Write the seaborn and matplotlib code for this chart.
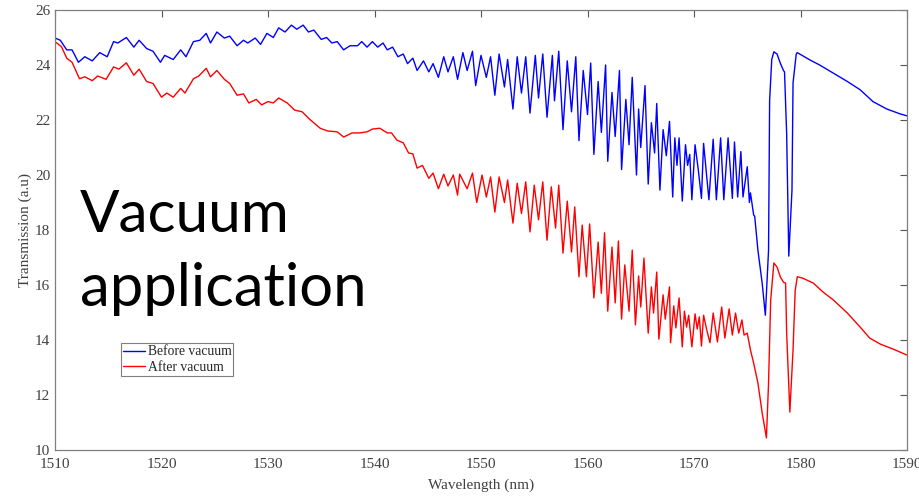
import matplotlib
matplotlib.use("Agg")
import matplotlib.pyplot as plt
import seaborn as sns
import pandas as pd

# Before vacuum (blue) (peaks / troughs)
wl_before = [1510.0, 1510.5, 1511.1, 1511.6, 1512.2, 1512.8, 1513.5, 1514.2, 1514.9, 1515.5,
             1515.9, 1516.7, 1517.4, 1517.9, 1518.6, 1519.2, 1519.9, 1520.3, 1521.1, 1521.8,
             1522.3, 1523.0, 1523.6, 1524.2, 1524.6, 1525.2, 1525.9, 1526.4, 1527.1, 1527.7,
             1528.1, 1528.8, 1529.3, 1529.9, 1530.5, 1531.0, 1531.6, 1532.2, 1532.7, 1533.3,
             1533.8, 1534.3, 1535.0, 1535.5, 1536.0, 1536.5, 1537.1, 1537.7, 1538.4, 1538.8,
             1539.3, 1539.8, 1540.3, 1540.8, 1541.2, 1541.7, 1542.2, 1542.7, 1543.1, 1543.6,
             1544.0, 1544.6, 1545.1, 1545.5, 1546.0, 1546.5, 1546.9, 1547.4, 1547.8, 1548.3,
             1548.7, 1549.2, 1549.5, 1550.0, 1550.5, 1550.9, 1551.3, 1551.7, 1552.2, 1552.5,
             1553.0, 1553.4, 1553.8, 1554.2, 1554.6, 1555.1, 1555.4, 1555.8, 1556.2, 1556.7,
             1556.9, 1557.3, 1557.7, 1558.1, 1558.5, 1558.9, 1559.2, 1559.6, 1560.0, 1560.3,
             1560.6, 1561.0, 1561.3, 1561.7, 1561.9, 1562.3, 1562.6, 1563.0, 1563.2, 1563.6,
             1563.9, 1564.2, 1564.6, 1564.8, 1565.0, 1565.4, 1565.7, 1566.0, 1566.3, 1566.5,
             1566.8, 1567.1, 1567.4, 1567.7, 1568.0, 1568.2, 1568.4, 1568.6, 1568.9, 1569.2,
             1569.4, 1569.6, 1569.8, 1570.1, 1570.4, 1570.7, 1570.9, 1571.4, 1571.8, 1572.1,
             1572.5, 1572.8, 1573.2, 1573.6, 1573.8, 1574.1, 1574.4, 1574.6, 1575.0, 1575.2,
             1575.3, 1575.6, 1575.7, 1576.0, 1576.4, 1576.7, 1577.0, 1577.1, 1577.3, 1577.5,
             1577.8, 1578.1, 1578.4, 1578.5, 1578.7, 1578.9, 1579.2, 1579.3, 1579.6, 1579.7,
             1580.9, 1581.8, 1583.1, 1584.4, 1585.6, 1586.8, 1588.1, 1589.3, 1590.0]
tr_before = [24.98, 24.9, 24.55, 24.55, 24.1, 24.3, 24.15, 24.45, 24.3, 24.85,
             24.8, 25.0, 24.65, 24.9, 24.6, 24.5, 24.1, 24.35, 24.2, 24.55,
             24.3, 24.85, 24.9, 25.15, 24.8, 25.2, 24.98, 25.05, 24.7, 24.9,
             24.8, 24.98, 24.75, 25.15, 25.0, 25.35, 25.2, 25.45, 25.3, 25.45,
             25.2, 25.27, 24.93, 25.0, 24.8, 24.85, 24.55, 24.7, 24.7, 24.85,
             24.65, 24.85, 24.65, 24.8, 24.55, 24.65, 24.3, 24.4, 24.05, 24.25,
             23.8, 24.15, 23.75, 24.05, 23.55, 24.3, 23.75, 24.3, 23.48, 24.45,
             23.8, 24.5, 23.25, 24.35, 23.55, 24.3, 22.9, 24.4, 23.2, 24.2,
             22.4, 24.3, 22.98, 24.3, 22.25, 24.35, 22.8, 24.4, 22.1, 24.35,
             22.7, 24.5, 21.65, 24.15, 22.3, 24.3, 21.25, 23.8, 22.2, 24.07,
             20.75, 23.4, 21.55, 24.0, 20.5, 23.0, 21.4, 23.8, 20.2, 22.75,
             21.1, 23.55, 20.0, 22.4, 21.0, 23.25, 19.67, 21.9, 20.8, 22.6,
             19.45, 21.65, 20.7, 21.95, 19.2, 21.35, 20.35, 21.35, 19.05, 21.1,
             20.35, 20.75, 19.1, 21.1, 20.2, 19.15, 21.15, 19.1, 21.3, 19.1,
             21.35, 19.1, 21.35, 19.15, 21.2, 19.2, 20.85, 19.2, 20.3, 19.0,
             19.35, 18.55, 18.5, 17.27, 16.07, 14.9, 17.27, 22.7, 24.2, 24.48,
             24.4, 24.07, 23.8, 23.75, 21.5, 17.05, 19.45, 23.35, 24.4, 24.45,
             24.18, 24.0, 23.7, 23.4, 23.1, 22.67, 22.4, 22.23, 22.15]

# After vacuum (red)
wl_after = [1510.0, 1510.6, 1511.1, 1511.6, 1512.3, 1512.8, 1513.5, 1514.0, 1514.8, 1515.5,
            1516.0, 1516.7, 1517.4, 1517.9, 1518.6, 1519.2, 1520.0, 1520.5, 1521.1, 1521.8,
            1522.2, 1523.0, 1523.5, 1524.2, 1524.6, 1525.2, 1525.9, 1526.4, 1527.1, 1527.7,
            1528.2, 1528.9, 1529.4, 1530.0, 1530.5, 1531.0, 1531.8, 1532.5, 1533.2, 1533.9,
            1534.9, 1535.6, 1536.5, 1537.1, 1537.9, 1538.6, 1539.3, 1539.8, 1540.5, 1541.2,
            1541.6, 1542.1, 1542.7, 1543.2, 1543.6, 1544.0, 1544.5, 1545.1, 1545.5, 1546.0,
            1546.5, 1546.9, 1547.4, 1547.8, 1548.0, 1548.7, 1549.2, 1549.6, 1550.1, 1550.5,
            1550.9, 1551.3, 1551.7, 1552.2, 1552.5, 1553.0, 1553.4, 1553.8, 1554.2, 1554.6,
            1555.0, 1555.4, 1555.8, 1556.2, 1556.6, 1557.0, 1557.3, 1557.7, 1558.1, 1558.5,
            1558.8, 1559.2, 1559.5, 1559.9, 1560.2, 1560.6, 1561.0, 1561.3, 1561.6, 1561.9,
            1562.3, 1562.6, 1562.9, 1563.2, 1563.5, 1563.9, 1564.2, 1564.5, 1564.8, 1565.0,
            1565.3, 1565.7, 1566.0, 1566.2, 1566.5, 1566.7, 1567.1, 1567.3, 1567.7, 1567.8,
            1568.1, 1568.3, 1568.6, 1568.9, 1569.1, 1569.3, 1569.5, 1569.8, 1570.1, 1570.3,
            1570.5, 1570.7, 1570.9, 1571.2, 1571.5, 1571.8, 1572.2, 1572.6, 1572.9, 1573.3,
            1573.6, 1573.9, 1574.2, 1574.5, 1574.7, 1575.0, 1575.3, 1575.6, 1576.0, 1576.4,
            1576.8, 1577.0, 1577.2, 1577.5, 1577.8, 1578.1, 1578.4, 1578.6, 1578.7, 1579.0,
            1579.3, 1579.5, 1579.7, 1580.2, 1581.2, 1582.1, 1583.1, 1584.4, 1585.6, 1586.5,
            1587.5, 1588.7, 1590.0]
tr_after = [24.85, 24.67, 24.25, 24.1, 23.5, 23.57, 23.43, 23.6, 23.48, 23.93,
            23.85, 24.08, 23.63, 23.85, 23.4, 23.33, 22.83, 22.98, 22.83, 23.15,
            22.98, 23.5, 23.6, 23.88, 23.57, 23.8, 23.48, 23.33, 22.9, 22.95,
            22.62, 22.75, 22.55, 22.67, 22.62, 22.8, 22.62, 22.36, 22.3, 22.03,
            21.7, 21.6, 21.57, 21.38, 21.53, 21.53, 21.57, 21.67, 21.7, 21.53,
            21.53, 21.27, 21.17, 20.8, 20.77, 20.25, 20.35, 19.88, 20.07, 19.5,
            20.03, 19.6, 20.0, 19.27, 20.03, 19.5, 20.07, 19.0, 20.0, 19.2,
            19.93, 18.65, 19.93, 19.0, 19.82, 18.25, 19.7, 18.6, 19.75, 17.93,
            19.63, 18.37, 19.75, 17.63, 19.57, 18.07, 19.63, 17.16, 19.05, 17.2,
            18.84, 16.3, 18.18, 16.3, 18.22, 15.53, 17.56, 15.7, 17.9, 15.05,
            17.38, 15.35, 17.6, 14.76, 16.73, 15.05, 17.27, 14.55, 16.33, 15.2,
            16.98, 14.25, 15.93, 14.98, 16.47, 14.03, 15.64, 14.76, 15.93, 13.9,
            15.24, 14.44, 15.53, 13.75, 15.05, 14.47, 14.9, 13.75, 14.95, 14.4,
            14.84, 13.78, 14.9, 14.36, 13.9, 14.98, 13.93, 15.2, 14.07, 15.13,
            14.18, 14.98, 14.25, 14.73, 14.18, 14.25, 13.64, 13.16, 12.44, 11.35,
            10.44, 12.44, 15.45, 16.8, 16.65, 16.3, 16.1, 16.07, 14.25, 11.38,
            13.64, 15.8, 16.3, 16.25, 16.07, 15.75, 15.45, 14.98, 14.47, 14.07,
            13.85, 13.67, 13.45]

x_ticks = [1510, 1520, 1530, 1540, 1550, 1560, 1570, 1580, 1590]
y_ticks = [10, 12, 14, 16, 18, 20, 22, 24, 26]

df_before = pd.DataFrame({"wl": wl_before, "tr": tr_before})
df_after = pd.DataFrame({"wl": wl_after, "tr": tr_after})

sns.set_style("white")
plt.rcParams["font.family"] = ["Liberation Serif", "DejaVu Serif"]

fig = plt.figure(figsize=(9.19, 4.96), dpi=100)
ax = fig.add_axes([55 / 919, 46 / 496, 852 / 919, 440 / 496])

sns.lineplot(data=df_before, x="wl", y="tr", color="#0000ff", lw=1.0,
             label="Before vacuum", ax=ax, sort=False)
sns.lineplot(data=df_after, x="wl", y="tr", color="#ff0000", lw=1.0,
             label="After vacuum", ax=ax, sort=False)

ax.set_xlim(1510, 1590)
ax.set_ylim(10, 26)
ax.set_xticks(x_ticks)
ax.set_yticks(y_ticks)
ax.tick_params(direction="in", length=5, width=0.8, colors="#555555",
               labelsize=11, labelcolor="#404040", top=True, right=True,
               labeltop=False, labelright=False)
ax.tick_params(axis="x", pad=6)
for s in ax.spines.values():
    s.set_color("#7f7f7f")
    s.set_linewidth(0.9)

ax.set_xlabel("Wavelength (nm)", fontsize=11, color="#404040", labelpad=5)
ax.set_ylabel("Transmission (a.u)", fontsize=11, color="#404040", labelpad=2)

leg = ax.legend(loc="lower left", bbox_to_anchor=(0.0775, 0.168), borderaxespad=0,
                fontsize=9.8, fancybox=False, framealpha=1, handlelength=1.6,
                handletextpad=0.2, borderpad=0.15, labelspacing=0.2)
leg.get_frame().set_edgecolor("#7f7f7f")
leg.get_frame().set_linewidth(0.8)

# big overlay caption, two lines
fig.text(80 / 919, 1 - 232 / 496, "Vacuum", family=["Lato", "DejaVu Sans"],
         fontsize=42, color="black", ha="left", va="baseline")
fig.text(80 / 919, 1 - 306 / 496, "application", family=["Lato", "DejaVu Sans"],
         fontsize=43, color="black", ha="left", va="baseline")

plt.savefig("out.png", dpi=100)
